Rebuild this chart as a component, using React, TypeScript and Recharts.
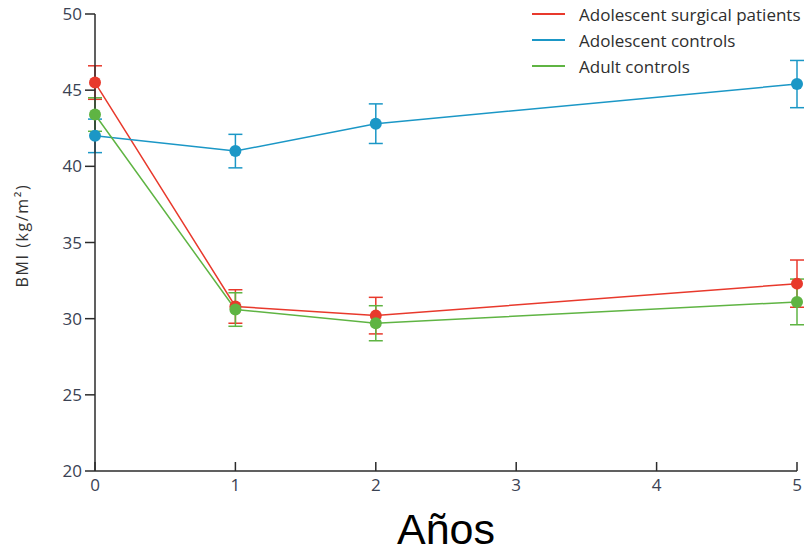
import React from 'react';
import { LineChart, Line, XAxis, YAxis, ErrorBar, Legend, Label } from 'recharts';

// BMI over years, mean with error bars
const years = [0, 1, 2, 5];
const surgical = [45.5, 30.8, 30.2, 32.3];
const surgicalErr = [1.1, 1.1, 1.2, 1.55];
const adolescentControls = [42.0, 41.0, 42.8, 45.4];
const adolescentControlsErr = [1.1, 1.1, 1.3, 1.55];
const adultControls = [43.4, 30.6, 29.7, 31.1];
const adultControlsErr = [1.1, 1.1, 1.15, 1.5];

const xTicks = [0, 1, 2, 3, 4, 5];
const yTicks = [20, 25, 30, 35, 40, 45, 50];

const series = [
  { key: 'surgical', name: 'Adolescent surgical patients', color: '#e8392c' },
  { key: 'adolescentControls', name: 'Adolescent controls', color: '#1b97c6' },
  { key: 'adultControls', name: 'Adult controls', color: '#5fb443' },
];

const data = years.map((year, i) => ({
  year,
  surgical: surgical[i],
  surgicalErr: surgicalErr[i],
  adolescentControls: adolescentControls[i],
  adolescentControlsErr: adolescentControlsErr[i],
  adultControls: adultControls[i],
  adultControlsErr: adultControlsErr[i],
}));

const axisColor = '#2b2b2b';
const tickColor = '#3a4253';

const XTick = (props: any) => {
  const { x, y, payload } = props;
  return (
    <g>
      <line x1={x} x2={x} y1={y - 9} y2={y} stroke={axisColor} strokeWidth={1.5} />
      <text
        x={x}
        y={y + 20}
        textAnchor='middle'
        fill={tickColor}
        fontSize={17}
        fontFamily='Open Sans'
      >
        {payload.value}
      </text>
    </g>
  );
};

const LegendBox = () => (
  <div style={{ fontFamily: 'Open Sans', fontSize: 17, color: '#2e2e2e' }}>
    {series.map((s) => (
      <div
        key={s.key}
        style={{ display: 'flex', alignItems: 'center', height: 26 }}
      >
        <span
          style={{
            display: 'inline-block',
            width: 33,
            height: 2,
            background: s.color,
            marginRight: 14,
          }}
        />
        {s.name}
      </div>
    ))}
  </div>
);

const App = () => {
  return (
    <div>
      <style>{'body { margin: 0; }'}</style>
      <LineChart
        width={811}
        height={555}
        data={data}
        margin={{ top: 14, right: 14, bottom: 0, left: 35 }}
      >
        <XAxis
          dataKey='year'
          type='number'
          domain={[0, 5]}
          ticks={xTicks}
          height={84}
          stroke={axisColor}
          strokeWidth={1.5}
          tickLine={false}
          tickSize={0}
          tickMargin={0}
          tick={<XTick />}
        >
          <Label
            value='Años'
            position='insideBottom'
            offset={11}
            fill='#000'
            fontSize={43}
            fontFamily='Liberation Sans'
          />
        </XAxis>
        <YAxis
          type='number'
          domain={[20, 50]}
          ticks={yTicks}
          width={60}
          stroke={axisColor}
          strokeWidth={1.5}
          tickSize={10}
          tickMargin={3}
          tick={{ fill: tickColor, fontSize: 17, fontFamily: 'Open Sans' }}
        >
          <Label
            value='BMI (kg/m²)'
            angle={-90}
            position='insideLeft'
            offset={-13}
            fill='#333'
            fontSize={16}
            fontFamily='Open Sans'
            letterSpacing={1.6}
            dy={45}
          />
        </YAxis>
        <Legend
          layout='vertical'
          align='center'
          verticalAlign='middle'
          wrapperStyle={{ top: 1, left: 532, width: 290 }}
          content={<LegendBox />}
        />
        {series.map((s) => (
          <Line
            key={s.key}
            dataKey={s.key}
            name={s.name}
            stroke={s.color}
            strokeWidth={1.5}
            isAnimationActive={false}
            dot={{ r: 6, fill: s.color, stroke: s.color, strokeWidth: 0 }}
            activeDot={false}
          >
            <ErrorBar
              dataKey={`${s.key}Err`}
              direction='y'
              width={7}
              stroke={s.color}
              strokeWidth={1.5}
            />
          </Line>
        ))}
      </LineChart>
    </div>
  );
};

export default App;
